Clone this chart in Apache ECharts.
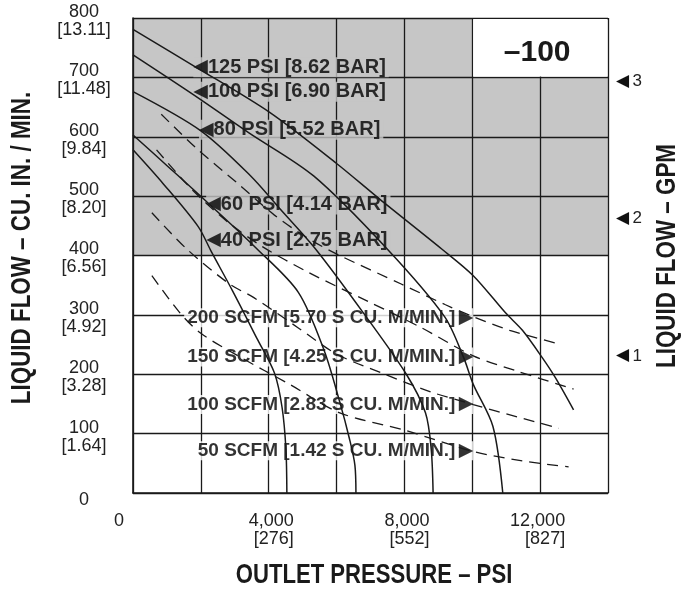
<!DOCTYPE html>
<html><head><meta charset="utf-8">
<script src="https://cdn.jsdelivr.net/npm/echarts@6.0.0/dist/echarts.min.js"></script>
<style>html,body{margin:0;padding:0;background:#fff}#c{width:690px;height:604px}</style>
</head><body><div id="c"></div>
<script>
// ---- tick labels ----
const yTickLabels = ['0','100\n[1.64]','200\n[3.28]','300\n[4.92]','400\n[6.56]','500\n[8.20]','600\n[9.84]','700\n[11.48]','800\n[13.11]'];
const xTickValues = [0, 4000, 8000, 12000];
const xTickPsi = ['0', '4,000', '8,000', '12,000'];
const xTickBar = ['', '[276]', '[552]', '[827]'];
const gpmTicks = [1, 2, 3];
const cuInPerGallon = 231;

// ---- titles ----
const xTitle = 'OUTLET PRESSURE – PSI';
const yTitle = 'LIQUID FLOW – CU. IN. / MIN.';
const y2Title = 'LIQUID FLOW – GPM';

// ---- air inlet pressure curves (outlet psi, cu in/min) ----
const pressureNames = ['125 PSI [8.62 BAR]','100 PSI [6.90 BAR]','80 PSI [5.52 BAR]','60 PSI [4.14 BAR]','40 PSI [2.75 BAR]'];
const psi125 = [[0,781],[1861,717],[4028,641],[6000,555],[7270,495],[9099,411],[10029,366],[10986,303],[11478,274],[12062,228],[12462,193],[12985,140]];
const psi100 = [[0,738],[1778,671],[3406,607],[5324,534],[7492,411],[9183,297],[9746,228],[10029,183],[10609,112],[10899,0]];
const psi80  = [[0,676],[2000,610],[3469,534],[4310,480],[5380,411],[6794,303],[8056,200],[8620,135],[8789,74],[8845,0]];
const psi60  = [[0,603],[1028,550],[2219,488],[3656,411],[4873,338],[5634,240],[6095,153],[6381,91],[6540,47],[6571,0]];
const psi40  = [[0,578],[889,521],[1917,449],[2313,406],[2938,340],[3656,260],[4169,202],[4394,144],[4507,74],[4535,0]];
const pressureLabelAt = [[1778,717],[1778,676],[1944,612],[2156,486],[2156,426]];

// ---- air consumption curves ----
const scfmNames = ['200 SCFM [5.70 S CU. M/MIN.]','150 SCFM [4.25 S CU. M/MIN.]','100 SCFM [2.83 S CU. M/MIN.]','50 SCFM [1.42 S CU. M/MIN.]'];
const scfm200 = [[833,638],[1861,581],[3094,521],[4169,468],[5155,429],[6095,400],[7905,352],[9211,317],[10029,297],[11101,274],[12431,253]];
const scfm150 = [[694,578],[1722,512],[2781,457],[3813,415],[5155,372],[6952,322],[8479,279],[10029,231],[11333,205],[12985,175]];
const scfm100 = [[556,472],[1583,411],[2844,352],[3563,329],[4873,278],[6000,234],[7333,202],[8789,170],[10029,149],[11333,128],[12554,109]];
const scfm50  = [[556,366],[1389,303],[2000,269],[3094,231],[4648,182],[6095,135],[8056,105],[10029,70],[11478,54],[12839,44]];
const scfmLabelAt = [[10030,295],[10030,229],[10030,149],[10030,71]];

// ---- shaded region & model box ----
const shadeRects = [[0,400,14000,700],[0,700,10000,800]];
const modelBox = [[10000,700,14000,800]];
const modelText = '–100';

const SHADE = '#c6c6c6';
const INK = '#1a1a1a';
const sans = '"Liberation Sans", Arial, Helvetica, sans-serif';

const chart = echarts.init(document.getElementById('c'), null, {renderer: 'canvas'});

const pressureSeries = [psi125, psi100, psi80, psi60, psi40].map((d, i) => ({
  type: 'line', name: pressureNames[i], data: d, z: 4, showSymbol: false, symbol: 'none',
  smooth: 0.3, silent: true,
  lineStyle: {color: INK, width: 1.5}
}));
const scfmSeries = [scfm200, scfm150, scfm100, scfm50].map((d, i) => ({
  type: 'line', name: scfmNames[i], data: d, z: 4, showSymbol: false, symbol: 'none',
  smooth: 0.3, silent: true,
  lineStyle: {color: INK, width: 1.3, type: [11, 7]}
}));

const titleFont = {fontFamily: sans, fontWeight: 'bold', fontSize: 28, fill: INK};

const option = {
  animation: false,
  backgroundColor: '#fff',
  grid: {left: 133, right: 82, top: 18, bottom: 111, outerBoundsMode: 'none', containLabel: false},
  graphic: [
    {type: 'text', x: 374, y: 575, scaleX: 0.79, silent: true,
      style: Object.assign({text: xTitle, align: 'center', verticalAlign: 'middle'}, titleFont)},
    {type: 'text', x: 22, y: 248, rotation: Math.PI / 2, scaleX: 0.8, silent: true,
      style: Object.assign({text: yTitle, align: 'center', verticalAlign: 'middle'}, titleFont)},
    {type: 'text', x: 667, y: 256, rotation: Math.PI / 2, scaleX: 0.8, silent: true,
      style: Object.assign({text: y2Title, align: 'center', verticalAlign: 'middle'}, titleFont)}
  ],
  xAxis: {
    type: 'value', min: 0, max: 14000, interval: 2000, z: 1,
    axisLine: {show: true, lineStyle: {color: INK, width: 1.6}},
    axisTick: {show: false},
    splitLine: {show: true, lineStyle: {color: INK, width: 1.3}},
    axisLabel: {
      margin: 19, color: '#222', fontFamily: sans, fontSize: 18, lineHeight: 18,
      formatter: v => {
        const i = xTickValues.indexOf(v);
        if (i < 0) return '';
        if (!xTickBar[i]) return '{z|' + xTickPsi[i] + '}';
        return '{r|' + xTickPsi[i] + '}\n{r|' + xTickBar[i] + '}';
      },
      rich: {
        r: {width: 50, align: 'right', fontFamily: sans, fontSize: 18, lineHeight: 18, color: '#222'},
        z: {width: 38, align: 'left', fontFamily: sans, fontSize: 18, lineHeight: 18, color: '#222'}
      }
    }
  },
  yAxis: [{
    type: 'value', min: 0, max: 800, interval: 100, z: 1,
    axisLine: {show: true, lineStyle: {color: INK, width: 1.6}},
    axisTick: {show: false},
    splitLine: {show: true, lineStyle: {color: INK, width: 1.3}},
    axisLabel: {
      margin: 49, align: 'center', color: '#222', fontFamily: sans, fontSize: 18, lineHeight: 18,
      padding: [6, 0, 0, 0],
      formatter: v => v === 0 ? '{z|0}' : (yTickLabels[Math.round(v / 100)] || ''),
      rich: {z: {fontFamily: sans, fontSize: 18, lineHeight: 18, color: '#222', padding: [8, 0, 0, 0]}}
    }
  }, {
    type: 'value', position: 'right', min: 0, max: 800 / cuInPerGallon, interval: 1, z: 1,
    axisLine: {show: false}, axisTick: {show: false}, splitLine: {show: false},
    axisLabel: {
      margin: 8, align: 'left',
      formatter: v => gpmTicks.indexOf(v) >= 0 ? '{a|◀} {n|' + v + '}' : '',
      rich: {
        a: {fontFamily: '"DejaVu Sans"', fontSize: 17, color: '#111'},
        n: {fontFamily: sans, fontSize: 17, color: '#222'}
      }
    }
  }],
  series: [
    {
      type: 'custom', z: 0, silent: true, data: shadeRects, encode: {x: [0, 2], y: [1, 3]},
      renderItem: (params, api) => {
        const p0 = api.coord([api.value(0), api.value(1)]);
        const p1 = api.coord([api.value(2), api.value(3)]);
        return {type: 'rect', shape: {x: p0[0], y: p1[1], width: p1[0] - p0[0], height: p0[1] - p1[1]},
          style: {fill: SHADE}};
      }
    },
    {
      type: 'custom', z: 2, silent: true, data: modelBox, encode: {x: [0, 2], y: [1, 3]},
      renderItem: (params, api) => {
        const p0 = api.coord([api.value(0), api.value(1)]);
        const p1 = api.coord([api.value(2), api.value(3)]);
        return {type: 'group', children: [
          {type: 'rect', shape: {x: p0[0] + 1, y: p1[1] + 1, width: p1[0] - p0[0] - 2, height: p0[1] - p1[1] - 2},
            style: {fill: '#fff'}},
          {type: 'text', style: {text: modelText, x: (p0[0] + p1[0]) / 2 - 3, y: (p0[1] + p1[1]) / 2 + 5,
            align: 'center', verticalAlign: 'middle', fontFamily: sans, fontWeight: 'bold', fontSize: 30, fill: '#1a1a1a'}}
        ]};
      }
    },
    {
      type: 'scatter', z: 3, silent: true, symbolSize: 0,
      data: pressureLabelAt.map((p, i) => ({value: p, name: pressureNames[i]})),
      label: {
        show: true, position: 'right', distance: 0,
        formatter: p => '{a|◀}{t|' + p.name + '}',
        backgroundColor: SHADE, padding: [0, 3, 0, 0],
        rich: {
          a: {fontFamily: '"DejaVu Sans"', fontSize: 19, color: '#000'},
          t: {fontFamily: sans, fontWeight: 'bold', fontSize: 20, color: '#000'}
        }
      }
    },
    {
      type: 'scatter', z: 3, silent: true, symbolSize: 0,
      data: scfmLabelAt.map((p, i) => ({value: p, name: scfmNames[i]})),
      label: {
        show: true, position: 'left', distance: 0,
        formatter: p => '{t|' + p.name + '} {a|▶}',
        backgroundColor: '#fff', padding: [0, 0, 0, 3],
        rich: {
          a: {fontFamily: '"DejaVu Sans"', fontSize: 19, color: '#000'},
          t: {fontFamily: sans, fontWeight: 'bold', fontSize: 19, color: '#000'}
        }
      }
    },
    ...pressureSeries,
    ...scfmSeries
  ]
};
chart.setOption(option);
</script>
</body></html>
